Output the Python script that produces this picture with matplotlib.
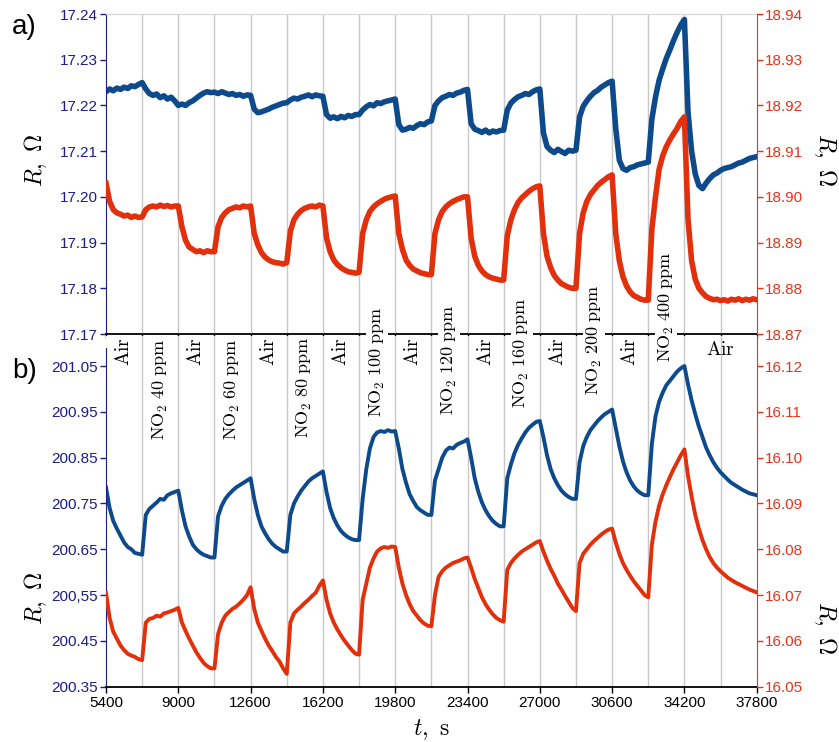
import numpy as np
import matplotlib
matplotlib.use('Agg')
import matplotlib.pyplot as plt
from matplotlib.transforms import blended_transform_factory

plt.rcParams['font.family'] = ['Liberation Sans', 'DejaVu Sans']
plt.rcParams['mathtext.fontset'] = 'cm'

# time grid, s
t = np.arange(5400, 37801, 180)

# gas switching moments
switches = [7200, 9000, 10800, 12600, 14400, 16200, 18000, 19800, 21600,
            23400, 25200, 27000, 28800, 30600, 32400, 34200, 36000]

phase_names = ['Air', r'$\mathrm{NO_2\ 40\ ppm}$', 'Air', r'$\mathrm{NO_2\ 60\ ppm}$',
               'Air', r'$\mathrm{NO_2\ 80\ ppm}$', 'Air', r'$\mathrm{NO_2\ 100\ ppm}$',
               'Air', r'$\mathrm{NO_2\ 120\ ppm}$', 'Air', r'$\mathrm{NO_2\ 160\ ppm}$',
               'Air', r'$\mathrm{NO_2\ 200\ ppm}$', 'Air', r'$\mathrm{NO_2\ 400\ ppm}$', 'Air']
phase_centers = [6300, 8100, 9900, 11700, 13500, 15300, 17100, 18900, 20700,
                 22500, 24300, 26100, 27900, 29700, 31500, 33300, 36000]

# a) sample 1
a_left = [
    17.2230, 17.2236, 17.2232, 17.2238, 17.2235, 17.2240, 17.2237, 17.2243, 17.2241, 17.2246,
    17.2250, 17.2236, 17.2226, 17.2222, 17.2225, 17.2217, 17.2221, 17.2214, 17.2218, 17.2210,
    17.2200, 17.2203, 17.2200, 17.2206, 17.2210, 17.2216, 17.2222, 17.2227, 17.2230, 17.2228,
    17.2229, 17.2226, 17.2230, 17.2227, 17.2224, 17.2226, 17.2222, 17.2224, 17.2220, 17.2223,
    17.2222, 17.2192, 17.2184, 17.2186, 17.2189, 17.2192, 17.2196, 17.2199, 17.2202, 17.2205,
    17.2206, 17.2212, 17.2216, 17.2214, 17.2218, 17.2220, 17.2223, 17.2219, 17.2223, 17.2221,
    17.2220, 17.2180, 17.2172, 17.2175, 17.2171, 17.2176, 17.2173, 17.2178, 17.2176, 17.2180,
    17.2180, 17.2190, 17.2197, 17.2202, 17.2199, 17.2206, 17.2204, 17.2208, 17.2210, 17.2212,
    17.2214, 17.2158, 17.2146, 17.2148, 17.2152, 17.2150, 17.2156, 17.2160, 17.2158, 17.2164,
    17.2166, 17.2200, 17.2210, 17.2217, 17.2220, 17.2224, 17.2222, 17.2227, 17.2229, 17.2233,
    17.2235, 17.2160, 17.2148, 17.2145, 17.2141, 17.2146, 17.2140, 17.2144, 17.2142, 17.2145,
    17.2146, 17.2190, 17.2205, 17.2213, 17.2219, 17.2222, 17.2226, 17.2224, 17.2230, 17.2234,
    17.2236, 17.2140, 17.2110, 17.2102, 17.2097, 17.2104, 17.2099, 17.2095, 17.2102, 17.2100,
    17.2102, 17.2175, 17.2198, 17.2210, 17.2220, 17.2228, 17.2233, 17.2240, 17.2245, 17.2250,
    17.2253, 17.2150, 17.2080, 17.2062, 17.2058, 17.2064, 17.2066, 17.2070, 17.2072, 17.2074,
    17.2076, 17.2170, 17.2218, 17.2255, 17.2280, 17.2303, 17.2322, 17.2342, 17.2360, 17.2376,
    17.2388, 17.2185, 17.2100, 17.2050, 17.2025, 17.2018, 17.2030, 17.2040, 17.2048, 17.2052,
    17.2058, 17.2062, 17.2064, 17.2066, 17.2070, 17.2074, 17.2076, 17.2080, 17.2084, 17.2086,
    17.2088]

# a) sample 2
a_right = [
    18.9030, 18.8990, 18.8972, 18.8965, 18.8962, 18.8958, 18.8960, 18.8955, 18.8958, 18.8955,
    18.8956, 18.8972, 18.8978, 18.8980, 18.8978, 18.8982, 18.8979, 18.8981, 18.8978, 18.8980,
    18.8980, 18.8935, 18.8905, 18.8890, 18.8885, 18.8880, 18.8882, 18.8878, 18.8882, 18.8880,
    18.8880, 18.8935, 18.8955, 18.8965, 18.8972, 18.8975, 18.8978, 18.8976, 18.8980, 18.8978,
    18.8980, 18.8920, 18.8895, 18.8878, 18.8868, 18.8862, 18.8858, 18.8856, 18.8855, 18.8853,
    18.8856, 18.8925, 18.8950, 18.8962, 18.8970, 18.8975, 18.8978, 18.8980, 18.8978, 18.8982,
    18.8980, 18.8910, 18.8880, 18.8862, 18.8852, 18.8845, 18.8840, 18.8836, 18.8835, 18.8833,
    18.8835, 18.8920, 18.8950, 18.8968, 18.8978, 18.8985, 18.8990, 18.8995, 18.8998, 18.9000,
    18.9002, 18.8920, 18.8885, 18.8862, 18.8850, 18.8842, 18.8838, 18.8834, 18.8832, 18.8830,
    18.8830, 18.8920, 18.8950, 18.8968, 18.8978, 18.8985, 18.8990, 18.8994, 18.8997, 18.9000,
    18.9000, 18.8910, 18.8870, 18.8850, 18.8838, 18.8830, 18.8825, 18.8822, 18.8820, 18.8818,
    18.8818, 18.8915, 18.8950, 18.8972, 18.8988, 18.8998, 18.9005, 18.9012, 18.9018, 18.9022,
    18.9024, 18.8920, 18.8870, 18.8845, 18.8828, 18.8818, 18.8810, 18.8806, 18.8802, 18.8800,
    18.8800, 18.8920, 18.8965, 18.8990, 18.9005, 18.9015, 18.9025, 18.9032, 18.9038, 18.9044,
    18.9048, 18.8920, 18.8860, 18.8825, 18.8805, 18.8792, 18.8784, 18.8780, 18.8776, 18.8774,
    18.8774, 18.8930, 18.9000, 18.9060, 18.9090, 18.9110, 18.9125, 18.9138, 18.9150, 18.9165,
    18.9175, 18.8950, 18.8860, 18.8820, 18.8800, 18.8790, 18.8782, 18.8778, 18.8775, 18.8776,
    18.8773, 18.8775, 18.8772, 18.8776, 18.8774, 18.8777, 18.8773, 18.8776, 18.8774, 18.8777,
    18.8775]

# b) sample 1
b_left = [
    200.785, 200.740, 200.712, 200.695, 200.680, 200.665, 200.655, 200.650, 200.642, 200.640,
    200.638, 200.725, 200.738, 200.745, 200.752, 200.760, 200.758, 200.768, 200.772, 200.775,
    200.778, 200.735, 200.700, 200.678, 200.660, 200.650, 200.643, 200.638, 200.635, 200.632,
    200.632, 200.722, 200.745, 200.760, 200.770, 200.778, 200.785, 200.790, 200.795, 200.800,
    200.805, 200.760, 200.725, 200.700, 200.685, 200.672, 200.662, 200.655, 200.650, 200.645,
    200.645, 200.725, 200.750, 200.765, 200.778, 200.788, 200.798, 200.805, 200.810, 200.815,
    200.820, 200.775, 200.740, 200.718, 200.702, 200.690, 200.682, 200.676, 200.672, 200.670,
    200.670, 200.760, 200.825, 200.870, 200.895, 200.905, 200.908, 200.906, 200.910, 200.907,
    200.908, 200.870, 200.825, 200.795, 200.770, 200.755, 200.742, 200.735, 200.730, 200.725,
    200.725, 200.800, 200.825, 200.850, 200.865, 200.872, 200.870, 200.878, 200.882, 200.885,
    200.890, 200.850, 200.805, 200.775, 200.752, 200.735, 200.722, 200.712, 200.705, 200.700,
    200.700, 200.805, 200.835, 200.860, 200.878, 200.892, 200.905, 200.915, 200.922, 200.928,
    200.930, 200.895, 200.855, 200.825, 200.805, 200.790, 200.778, 200.770, 200.764, 200.760,
    200.760, 200.840, 200.875, 200.895, 200.910, 200.920, 200.930, 200.938, 200.945, 200.950,
    200.955, 200.915, 200.875, 200.842, 200.818, 200.800, 200.787, 200.778, 200.772, 200.768,
    200.768, 200.880, 200.940, 200.972, 200.992, 201.008, 201.018, 201.028, 201.038, 201.045,
    201.050, 201.010, 200.975, 200.945, 200.918, 200.895, 200.872, 200.855, 200.840, 200.828,
    200.818, 200.810, 200.802, 200.795, 200.790, 200.785, 200.780, 200.776, 200.772, 200.770,
    200.768]

# b) sample 2
b_right = [
    16.0705, 16.0650, 16.0620, 16.0605, 16.0590, 16.0580, 16.0572, 16.0568, 16.0565, 16.0560,
    16.0558, 16.0640, 16.0648, 16.0650, 16.0655, 16.0653, 16.0660, 16.0662, 16.0665, 16.0668,
    16.0672, 16.0640, 16.0622, 16.0605, 16.0590, 16.0575, 16.0563, 16.0552, 16.0545, 16.0540,
    16.0540, 16.0615, 16.0640, 16.0655, 16.0663, 16.0670, 16.0675, 16.0682, 16.0690, 16.0700,
    16.0717, 16.0670, 16.0640, 16.0622, 16.0605, 16.0590, 16.0578, 16.0565, 16.0555, 16.0540,
    16.0528, 16.0640, 16.0660, 16.0668, 16.0675, 16.0683, 16.0690, 16.0698, 16.0705, 16.0720,
    16.0732, 16.0690, 16.0660, 16.0640, 16.0625, 16.0612, 16.0600, 16.0590, 16.0580, 16.0572,
    16.0570, 16.0690, 16.0725, 16.0760, 16.0780, 16.0795, 16.0802, 16.0805, 16.0803, 16.0806,
    16.0805, 16.0760, 16.0725, 16.0700, 16.0680, 16.0665, 16.0655, 16.0645, 16.0638, 16.0633,
    16.0632, 16.0700, 16.0740, 16.0752, 16.0760, 16.0765, 16.0770, 16.0773, 16.0776, 16.0780,
    16.0782, 16.0760, 16.0735, 16.0715, 16.0695, 16.0680, 16.0668, 16.0658, 16.0650, 16.0645,
    16.0642, 16.0755, 16.0770, 16.0780, 16.0788, 16.0795, 16.0800, 16.0805, 16.0810, 16.0815,
    16.0818, 16.0795, 16.0775, 16.0757, 16.0742, 16.0725, 16.0712, 16.0698, 16.0685, 16.0672,
    16.0665, 16.0770, 16.0790, 16.0800, 16.0810, 16.0818, 16.0825, 16.0832, 16.0838, 16.0843,
    16.0845, 16.0815, 16.0790, 16.0770, 16.0755, 16.0742, 16.0730, 16.0720, 16.0710, 16.0700,
    16.0695, 16.0810, 16.0860, 16.0895, 16.0920, 16.0940, 16.0958, 16.0975, 16.0990, 16.1005,
    16.1018, 16.0960, 16.0915, 16.0875, 16.0845, 16.0820, 16.0800, 16.0783, 16.0770, 16.0760,
    16.0752, 16.0745, 16.0738, 16.0733, 16.0728, 16.0724, 16.0720, 16.0716, 16.0712, 16.0709,
    16.0706]

a_left_ticks = [17.17, 17.18, 17.19, 17.20, 17.21, 17.22, 17.23, 17.24]
a_right_ticks = [18.87, 18.88, 18.89, 18.90, 18.91, 18.92, 18.93, 18.94]
b_left_ticks = [200.35, 200.45, 200.55, 200.65, 200.75, 200.85, 200.95, 201.05]
b_left_labels = ['200.35', '200.45', '200,55', '200.65', '200.75', '200.85', '200.95', '201.05']
b_right_ticks = [16.05, 16.06, 16.07, 16.08, 16.09, 16.10, 16.11, 16.12]
x_ticks = [5400, 9000, 12600, 16200, 19800, 23400, 27000, 30600, 34200, 37800]

BLUE = '#0d4a8b'
RED = '#e2300c'
NAVY = '#1c1c8c'
RAXIS = '#e8321a'
GRID = '#c8c8c8'

W, H = 839, 742
fig = plt.figure(figsize=(W / 100, H / 100), dpi=100)
ax_a = fig.add_axes([106 / W, 1 - 334 / H, 650.7 / W, 320 / H])
ax_b = fig.add_axes([106 / W, 1 - 686.7 / H, 650.7 / W, 350.7 / H])
ax_a2 = ax_a.twinx()
ax_b2 = ax_b.twinx()

for ax in (ax_a, ax_b):
    for s in switches:
        ax.axvline(s, color=GRID, lw=1, zorder=0)
    ax.set_xlim(5400, 37800)

ax_a.plot(t, a_left, color=BLUE, lw=4, solid_joinstyle='round')
ax_a2.plot(t, a_right, color=RED, lw=4, solid_joinstyle='round')
ax_b.plot(t, b_left, color=BLUE, lw=2.8, solid_joinstyle='round')
ax_b2.plot(t, b_right, color=RED, lw=2.8, solid_joinstyle='round')

ax_a.set_ylim(17.17, 17.24)
ax_a2.set_ylim(18.87, 18.94)
ax_b.set_ylim(200.35, 201.1155)
ax_b2.set_ylim(16.05, 16.12655)

ax_a.set_yticks(a_left_ticks, ['%.2f' % v for v in a_left_ticks])
ax_a2.set_yticks(a_right_ticks, ['%.2f' % v for v in a_right_ticks])
ax_b.set_yticks(b_left_ticks, b_left_labels)
ax_b2.set_yticks(b_right_ticks, ['%.2f' % v for v in b_right_ticks])

ax_a.set_xticks(range(5400, 37801, 1800))
ax_a.tick_params(axis='x', labelbottom=False, length=3, width=1, color='black')
ax_b.set_xticks(x_ticks)
ax_b.tick_params(axis='x', length=4, width=1, color='black', labelsize=11, pad=3)

for ax in (ax_a, ax_b):
    ax.tick_params(axis='y', colors=NAVY, length=4, width=1, labelsize=11, pad=2)
    ax.spines['left'].set_color(NAVY)
    ax.spines['right'].set_visible(False)
    ax.spines['bottom'].set_linewidth(1.3)
for ax in (ax_a2, ax_b2):
    ax.tick_params(axis='y', colors=RAXIS, length=4, width=1, labelsize=11, pad=2)
    ax.spines['right'].set_color(RAXIS)
    ax.spines['left'].set_visible(False)
    ax.spines['top'].set_visible(False)
    ax.spines['bottom'].set_visible(False)
ax_a.spines['top'].set_color('#d4d4d4')
ax_b.spines['top'].set_visible(False)
ax_b.spines['left'].set_bounds(200.35, 201.09)

# gas labels between the panels
tr = blended_transform_factory(ax_b.transData, fig.transFigure)
label_bottoms = [None, 440, None, 440, None, 438, None, 417, None, 415, None, 408, None, 395, None, 362, None]
for name, xc, yb in zip(phase_names, phase_centers, label_bottoms):
    if name == 'Air' and xc == phase_centers[-1]:
        fig.text(xc, 1 - 350 / H, r'$\mathrm{Air}$', transform=tr, ha='center', va='center',
                 fontsize=14)
    elif name == 'Air':
        fig.text(xc, 1 - 337 / H, r'$\mathrm{Air}$', transform=tr, ha='center', va='top',
                 rotation=90, fontsize=14)
    else:
        fig.text(xc, 1 - yb / H, name, transform=tr, ha='center', va='bottom',
                 rotation=90, fontsize=13,
                 bbox=dict(facecolor='white', edgecolor='none', pad=1))

fig.text(12 / W, 1 - 27 / H, 'a)', fontsize=20, va='center', ha='left')
fig.text(12 / W, 1 - 371 / H, 'b)', fontsize=20, va='center', ha='left')

fig.text(36 / W, 1 - 160 / H, r'$R,\ \Omega$', rotation=90, fontsize=17, ha='center', va='center')
fig.text(825 / W, 1 - 160 / H, r'$R,\ \Omega$', rotation=270, fontsize=17, ha='center', va='center')
fig.text(36 / W, 1 - 598 / H, r'$R,\ \Omega$', rotation=90, fontsize=17, ha='center', va='center')
fig.text(825 / W, 1 - 628 / H, r'$R,\ \Omega$', rotation=270, fontsize=17, ha='center', va='center')
fig.text(431 / W, 1 - 730 / H, r'$t,\ \mathrm{s}$', fontsize=17, ha='center', va='center')

fig.savefig('out.png', dpi=100)
